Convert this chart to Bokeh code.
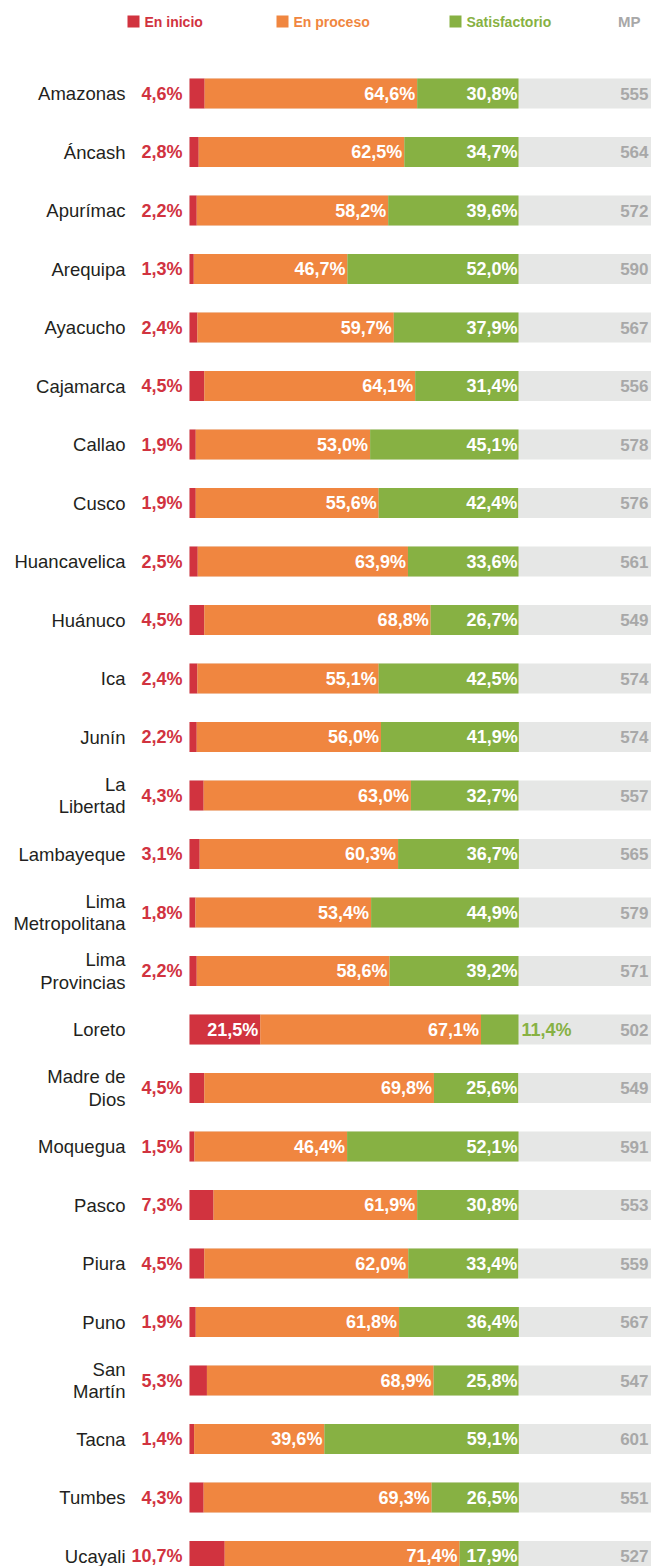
from bokeh.plotting import figure
from bokeh.models import ColumnDataSource, Range1d
from bokeh.core.properties import value
from bokeh.embed import file_html
from bokeh.resources import INLINE

regions = ["Amazonas", "Áncash", "Apurímac", "Arequipa", "Ayacucho", "Cajamarca", "Callao",
           "Cusco", "Huancavelica", "Huánuco", "Ica", "Junín", "La\nLibertad", "Lambayeque",
           "Lima\nMetropolitana", "Lima\nProvincias", "Loreto", "Madre de\nDios", "Moquegua",
           "Pasco", "Piura", "Puno", "San\nMartín", "Tacna", "Tumbes", "Ucayali"]
en_inicio = [4.6, 2.8, 2.2, 1.3, 2.4, 4.5, 1.9, 1.9, 2.5, 4.5, 2.4, 2.2, 4.3, 3.1, 1.8, 2.2,
             21.5, 4.5, 1.5, 7.3, 4.5, 1.9, 5.3, 1.4, 4.3, 10.7]
en_proceso = [64.6, 62.5, 58.2, 46.7, 59.7, 64.1, 53.0, 55.6, 63.9, 68.8, 55.1, 56.0, 63.0, 60.3,
              53.4, 58.6, 67.1, 69.8, 46.4, 61.9, 62.0, 61.8, 68.9, 39.6, 69.3, 71.4]
satisfactorio = [30.8, 34.7, 39.6, 52.0, 37.9, 31.4, 45.1, 42.4, 33.6, 26.7, 42.5, 41.9, 32.7, 36.7,
                 44.9, 39.2, 11.4, 25.6, 52.1, 30.8, 33.4, 36.4, 25.8, 59.1, 26.5, 17.9]
mp = [555, 564, 572, 590, 567, 556, 578, 576, 561, 549, 574, 574, 557, 565, 579, 571, 502, 549,
      591, 553, 559, 567, 547, 601, 551, 527]
legend_labels = ["En inicio", "En proceso", "Satisfactorio"]
mp_label = "MP"

RED = "#d1333f"
ORANGE = "#f08640"
GREEN = "#87b143"
GREY_BG = "#e6e7e6"
GREY_TXT = "#a8a8a8"
FONT = "Liberation Sans"

W, H = 651, 1566
BAR_X0 = 189.0          # pixel of 0 %
PX_PER_PCT = 3.29       # pixels per percent
ROW0 = 93.0             # pixel centre of first row
ROW_H = 58.5            # pixels per row

x_start = -BAR_X0 / PX_PER_PCT
x_end = (W - BAR_X0) / PX_PER_PCT
y_top = -ROW0 / ROW_H
y_bot = (H - ROW0) / ROW_H

def px2x(px):
    return (px - BAR_X0) / PX_PER_PCT

def fmt(v):
    return f"{v:.1f}".replace(".", ",") + "%"

n = len(regions)
ys = list(range(n))
e1 = [a for a in en_inicio]
e2 = [a + b for a, b in zip(en_inicio, en_proceso)]
e3 = [a + b + c for a, b, c in zip(en_inicio, en_proceso, satisfactorio)]

inside_red = [v > 15 for v in en_inicio]
outside_green = [v < 15 for v in satisfactorio]

src = ColumnDataSource(dict(
    y=ys, name=regions, e1=e1, e2=e2, e3=e3, zero=[0] * n, xend=[x_end + 5] * n,
    mp=[str(v) for v in mp],
    lab_left=["" if ins else fmt(v) for v, ins in zip(en_inicio, inside_red)],
    lab_red_in=[fmt(v) if ins else "" for v, ins in zip(en_inicio, inside_red)],
    lab_or=[fmt(v) for v in en_proceso],
    lab_gr_in=["" if o else fmt(v) for v, o in zip(satisfactorio, outside_green)],
    lab_gr_out=[fmt(v) if o else "" for v, o in zip(satisfactorio, outside_green)],
    xmp=[x_end] * n,
))

p = figure(width=W, height=H, output_backend="svg", toolbar_location=None,
           x_range=Range1d(x_start, x_end), y_range=Range1d(y_bot, y_top),
           min_border=0, min_border_left=0, min_border_right=0,
           min_border_top=0, min_border_bottom=0,
           x_axis_location=None, y_axis_location=None, outline_line_color=None,
           background_fill_color="white", border_fill_color="white")
p.xgrid.visible = False
p.ygrid.visible = False

bh = 30.0 / ROW_H
p.hbar(y="y", left="zero", right="xend", height=bh, color=GREY_BG, line_color=None, source=src)
p.hbar(y="y", left="zero", right="e1", height=bh, color=RED, line_color=None, source=src)
p.hbar(y="y", left="e1", right="e2", height=bh, color=ORANGE, line_color=None, source=src)
p.hbar(y="y", left="e2", right="e3", height=bh, color=GREEN, line_color=None, source=src)

common = dict(text_font=value(FONT), text_baseline="middle", source=src)
p.text(x="zero", y="y", text="name", x_offset=-64, text_align="right",
       text_font_size="18.5px", text_color="#231f20", text_line_height=1.05, **common)
p.text(x="zero", y="y", text="lab_left", x_offset=-7, text_align="right",
       text_font_size="18px", text_font_style="bold", text_color=RED, **common)
p.text(x="e1", y="y", text="lab_red_in", x_offset=-2, text_align="right",
       text_font_size="18px", text_font_style="bold", text_color="white", **common)
p.text(x="e2", y="y", text="lab_or", x_offset=-2, text_align="right",
       text_font_size="18px", text_font_style="bold", text_color="white", **common)
p.text(x="e3", y="y", text="lab_gr_in", x_offset=-1, text_align="right",
       text_font_size="18px", text_font_style="bold", text_color="white", **common)
p.text(x="e3", y="y", text="lab_gr_out", x_offset=3, text_align="left",
       text_font_size="18px", text_font_style="bold", text_color=GREEN, **common)
p.text(x="xmp", y="y", text="mp", x_offset=-3, text_align="right",
       text_font_size="17px", text_font_style="bold", text_color=GREY_TXT, **common)

# legend
leg_y = (21 - ROW0) / ROW_H
leg_sq_px = [133, 282, 455]
leg_txt_px = [144, 293, 466]
leg_colors = [RED, ORANGE, GREEN]
lsrc = ColumnDataSource(dict(
    xs=[px2x(v) for v in leg_sq_px], xt=[px2x(v) for v in leg_txt_px],
    y=[leg_y] * 3, c=leg_colors, t=legend_labels))
p.scatter(x="xs", y="y", marker="square", size=12, color="c", line_color=None, source=lsrc)
p.text(x="xt", y="y", text="t", text_color="c", text_font=value(FONT), text_font_style="bold",
       text_font_size="14px", text_baseline="middle", text_align="left", source=lsrc)
p.text(x=[x_end], y=[leg_y], text=[mp_label], x_offset=-11, text_align="right",
       text_baseline="middle", text_font=value(FONT), text_font_style="bold",
       text_font_size="15px", text_color=GREY_TXT)

open("out.html", "w").write(file_html(p, INLINE))
